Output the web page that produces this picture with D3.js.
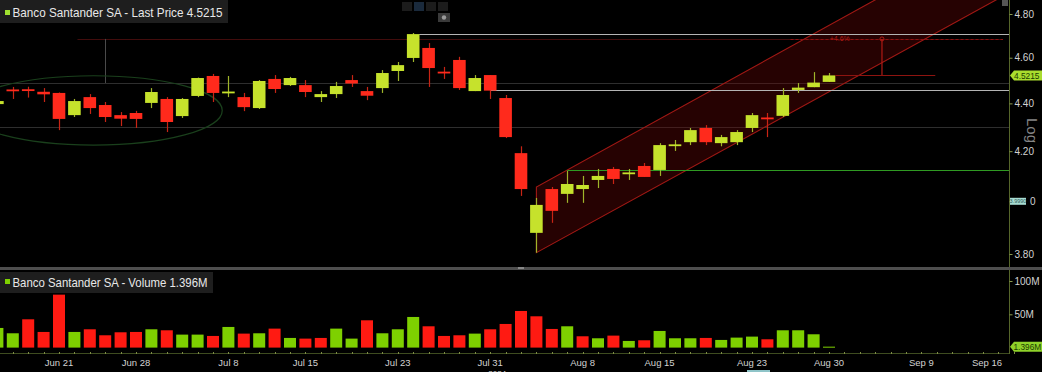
<!DOCTYPE html>
<html><head><meta charset="utf-8">
<script src="https://cdn.jsdelivr.net/npm/d3@7"></script>
<style>
body{margin:0;background:#000;overflow:hidden}
text{font-family:"Liberation Sans",Arial,sans-serif}
</style>
</head><body>
<svg id="c" width="1042" height="372"></svg>
<script>
// ---------------- DATA ----------------
const tradingDays = ["Jun 17","Jun 18","Jun 19","Jun 20","Jun 21","Jun 24","Jun 25","Jun 26","Jun 27","Jun 28",
 "Jul 1","Jul 2","Jul 3","Jul 4","Jul 5","Jul 8","Jul 9","Jul 10","Jul 11","Jul 12",
 "Jul 15","Jul 16","Jul 17","Jul 18","Jul 19","Jul 22","Jul 23","Jul 24","Jul 25","Jul 26",
 "Jul 29","Jul 30","Jul 31","Aug 1","Aug 2","Aug 5","Aug 6","Aug 7","Aug 8","Aug 9",
 "Aug 12","Aug 13","Aug 14","Aug 15","Aug 16","Aug 19","Aug 20","Aug 21","Aug 22","Aug 23",
 "Aug 26","Aug 27","Aug 28","Aug 29","Aug 30","Sep 2","Sep 3","Sep 4","Sep 5","Sep 6",
 "Sep 9","Sep 10","Sep 11","Sep 12","Sep 13","Sep 16","Sep 17"];

const openPrice  = [4.397,4.460,4.461,4.450,4.445,4.350,4.427,4.393,4.350,4.359,
 4.402,4.419,4.346,4.432,4.519,4.447,4.427,4.380,4.506,4.479,
 4.479,4.427,4.440,4.501,4.453,4.466,4.541,4.599,4.644,4.538,
 4.590,4.453,4.523,4.423,4.192,3.879,4.048,4.029,4.048,4.084,
 4.128,4.110,4.140,4.124,4.224,4.237,4.296,4.233,4.237,4.296,
 4.340,4.347,4.458,4.470,4.493];
const highPrice  = [4.415,4.471,4.472,4.466,4.447,4.419,4.440,4.406,4.363,4.368,
 4.466,4.427,4.423,4.512,4.528,4.519,4.445,4.501,4.523,4.515,
 4.501,4.453,4.493,4.523,4.471,4.545,4.581,4.712,4.666,4.559,
 4.604,4.523,4.523,4.436,4.220,4.013,4.056,4.120,4.100,4.128,
 4.136,4.128,4.152,4.233,4.246,4.296,4.308,4.267,4.287,4.359,
 4.359,4.466,4.488,4.536,4.532];
const lowPrice   = [4.390,4.419,4.425,4.406,4.287,4.342,4.355,4.321,4.304,4.296,
 4.380,4.279,4.338,4.427,4.406,4.427,4.367,4.376,4.445,4.475,
 4.427,4.406,4.423,4.471,4.414,4.445,4.497,4.581,4.471,4.506,
 4.458,4.453,4.419,4.254,4.021,3.805,3.917,3.994,3.994,4.052,
 4.068,4.084,4.096,4.100,4.201,4.225,4.225,4.220,4.225,4.279,
 4.258,4.342,4.445,4.470,4.493];
const closePrice = [4.410,4.456,4.455,4.439,4.334,4.410,4.380,4.342,4.335,4.334,
 4.449,4.321,4.419,4.510,4.445,4.451,4.384,4.497,4.462,4.510,
 4.449,4.440,4.475,4.486,4.433,4.532,4.567,4.707,4.554,4.534,
 4.466,4.510,4.455,4.258,4.048,3.986,3.963,4.068,4.064,4.100,
 4.088,4.114,4.096,4.225,4.228,4.287,4.237,4.258,4.279,4.350,
 4.336,4.436,4.468,4.490,4.5215];

// volume in millions
const volumeM = [29.5,21.5,42.5,23.5,79.5,23.5,27.5,18.5,23,23.5,
 27.5,26,19.5,19.5,17.5,31,21,21.5,28.5,14.5,
 13.5,14.5,28.5,13.5,41,21.5,27.5,46,32,17.5,
 18.5,21,27.5,35.5,55,47,28,32,17,14,
 18,10,11,25,14,14,14.5,11.5,15,16.5,
 12.5,26,26,20,1.396];
// 1 = up day (green), 0 = down day (red)
const volumeUp = [1,1,0,0,0,1,0,0,0,0,
 1,0,1,1,0,1,0,1,0,1,
 0,0,1,1,0,1,1,1,0,0,
 0,1,0,0,0,0,0,1,0,1,
 0,1,0,1,1,1,0,1,1,1,
 0,1,1,1,1];

const priceTicks = [3.8,4.0,4.2,4.4,4.6,4.8];
const volumeTicks = [50,100];
const dateTickLabels = ["Jun 21","Jun 28","Jul 8","Jul 15","Jul 23","Jul 31","Aug 8","Aug 15","Aug 23","Aug 30","Sep 9","Sep 16"];

// drawn annotations (data coordinates)
const gridPrices = [4.488, 4.30];
const levelPrices = [4.707, 4.458];
const levelStartDays = ["Jul 24","Jul 31"];
const supportPrice = 4.124, supportStartDay = "Aug 7";
const channelStartDay = "Aug 5", channelEndDay = "Aug 30";
const channelUpper = [4.056, 4.747];
const channelLower = [3.805, 4.450];
const targetPrice = 4.685;
const lastPrice = 4.5215, lastVolume = "1.396M";
const ellipseDays = [-2.1, 14.6], ellipsePrices = [4.225, 4.52];

// ---------------- CHART ----------------
const svg = d3.select("#c");
const W = 1042, H = 372, axisX = 1009, panelBottom = 267;
const idx = d => tradingDays.indexOf(d);
const x = d3.scaleLinear().domain([0, 65]).range([-2.6, 998.4]);
const y = d3.scaleLog().domain([3.8, 4.8]).range([254, 14]);
const yv = d3.scaleLinear().domain([0, 100]).range([347.6, 281]);

const upC = "#c6e22c", dnC = "#ff2a1c", upW = "#9fb52a", dnW = "#c82414";
const vUp = "#7ed000", vDn = "#ff1a12";

svg.append("rect").attr("width", W).attr("height", H).attr("fill", "#000");

const defs = svg.append("defs");
defs.append("clipPath").attr("id", "pc").append("rect")
  .attr("x", 0).attr("y", 0).attr("width", axisX).attr("height", panelBottom);

const plot = svg.append("g").attr("clip-path", "url(#pc)");

// faint grid
plot.selectAll("line.grid").data(gridPrices).join("line")
  .attr("x1", 0).attr("x2", axisX).attr("y1", d => Math.round(y(d)) + 0.5).attr("y2", d => Math.round(y(d)) + 0.5)
  .attr("stroke", "#2e2e2e").attr("stroke-width", 1);

// faint dark red target line across
plot.append("line").attr("x1", x(5.2)).attr("x2", x(65.3))
  .attr("y1", Math.round(y(targetPrice)) + 0.5).attr("y2", Math.round(y(targetPrice)) + 0.5)
  .attr("stroke", "#420c0c").attr("stroke-width", 1);
// gray vertical near Jun 26
plot.append("line").attr("x1", Math.round(x(idx("Jun 26"))) + 0.5).attr("x2", Math.round(x(idx("Jun 26"))) + 0.5)
  .attr("y1", y(targetPrice)).attr("y2", y(4.488)).attr("stroke", "#4a4a4a");

// ellipse
plot.append("ellipse")
  .attr("cx", (x(ellipseDays[0]) + x(ellipseDays[1])) / 2)
  .attr("cy", (y(ellipsePrices[0]) + y(ellipsePrices[1])) / 2)
  .attr("rx", (x(ellipseDays[1]) - x(ellipseDays[0])) / 2)
  .attr("ry", (y(ellipsePrices[0]) - y(ellipsePrices[1])) / 2)
  .attr("fill", "none").attr("stroke", "#1a401c").attr("stroke-width", 1.2);

// channel
const cs = idx(channelStartDay), ce = idx(channelEndDay);
function ext(p0, p1, xe) {
  const x0 = x(cs), y0 = y(p0), x1 = x(ce), y1 = y(p1);
  return [xe, y0 + (y1 - y0) / (x1 - x0) * (xe - x0)];
}
const xFar = 1060;
const uA = [x(cs), y(channelUpper[0])], uB = ext(channelUpper[0], channelUpper[1], xFar);
const lA = [x(cs), y(channelLower[0])], lB = ext(channelLower[0], channelLower[1], xFar);
plot.append("path").attr("d", d3.line()([uA, uB, lB, lA]) + "Z")
  .attr("fill", "rgba(105,6,6,0.36)").attr("stroke", "none");
plot.append("path").attr("d", d3.line()([uB, uA, lA, lB]))
  .attr("fill", "none").attr("stroke", "#a01814").attr("stroke-width", 1.1);

// horizontal levels
plot.selectAll("line.lvl").data(levelPrices).join("line")
  .attr("x1", (d, i) => x(idx(levelStartDays[i])) + (i === 0 ? 6 : 0)).attr("x2", axisX)
  .attr("y1", d => Math.round(y(d)) + 0.5).attr("y2", d => Math.round(y(d)) + 0.5)
  .attr("stroke", "#b4b4b4").attr("stroke-width", 1.2);
plot.append("line").attr("x1", x(idx(supportStartDay))).attr("x2", axisX)
  .attr("y1", Math.round(y(supportPrice)) + 0.5).attr("y2", Math.round(y(supportPrice)) + 0.5)
  .attr("stroke", "#2f9a22").attr("stroke-width", 1.1);

// candles
const candles = closePrice.map((c, i) => ({i, o: openPrice[i], h: highPrice[i], l: lowPrice[i], c}));
const bw = 12.6;
const cg = plot.selectAll("g.cd").data(candles).join("g");
cg.append("line")
  .attr("x1", d => Math.round(x(d.i)) + 0.5).attr("x2", d => Math.round(x(d.i)) + 0.5)
  .attr("y1", d => y(d.h)).attr("y2", d => y(d.l))
  .attr("stroke", d => d.c >= d.o ? upW : dnW).attr("stroke-width", 1.2);
cg.append("rect")
  .attr("x", d => x(d.i) - bw / 2).attr("width", bw)
  .attr("y", d => y(Math.max(d.o, d.c)))
  .attr("height", d => Math.max(1.8, Math.abs(y(d.o) - y(d.c))))
  .attr("fill", d => d.c >= d.o ? upC : dnC);

// measurement annotation
const mx = x(57.44);
plot.append("line").attr("x1", x(51.5)).attr("x2", x(65.3))
  .attr("y1", Math.round(y(targetPrice)) + 0.5).attr("y2", Math.round(y(targetPrice)) + 0.5)
  .attr("stroke", "#8c1010").attr("stroke-dasharray", "3,2");
plot.append("line").attr("x1", mx).attr("x2", mx).attr("y1", y(targetPrice)).attr("y2", y(lastPrice))
  .attr("stroke", "#b01a14").attr("stroke-width", 1.2);
plot.append("circle").attr("cx", mx).attr("cy", y(targetPrice)).attr("r", 2)
  .attr("fill", "none").attr("stroke", "#b01a14");
plot.append("line").attr("x1", x(54.4)).attr("x2", x(60.9))
  .attr("y1", Math.round(y(lastPrice)) + 0.5).attr("y2", Math.round(y(lastPrice)) + 0.5)
  .attr("stroke", "#8e1410").attr("stroke-width", 1.2);
plot.append("text").attr("x", x(54.7)).attr("y", y(targetPrice) + 2)
  .attr("fill", "#b01a14").attr("font-size", 7).attr("text-anchor", "middle").text("+4.6%");

// toolbar icons
const tb = svg.append("g");
[[402,"#1c1c1c"],[414,"#1a2a3c"],[426,"#1c1c1c"],[438,"#1c1c1c"]].forEach(([tx, f]) =>
  tb.append("rect").attr("x", tx).attr("y", 2).attr("width", 10).attr("height", 9).attr("fill", f));
tb.append("rect").attr("x", 438).attr("y", 13).attr("width", 12).attr("height", 9).attr("fill", "#3a3a3a");
tb.append("circle").attr("cx", 444).attr("cy", 17.5).attr("r", 2.2).attr("fill", "#9a9a9a");
svg.append("rect").attr("x", 1002).attr("y", 0).attr("width", 6).attr("height", 6).attr("fill", "#555");

// legend (price)
svg.append("rect").attr("x", 0).attr("y", 0).attr("width", 228).attr("height", 23).attr("fill", "#1e1e1e");
svg.append("rect").attr("x", 5).attr("y", 10).attr("width", 5).attr("height", 5).attr("fill", "#a0e030");
svg.append("text").attr("x", 12.5).attr("y", 17).attr("font-size", 13).attr("fill", "#e8e8e8")
  .attr("textLength", 210).attr("lengthAdjust", "spacingAndGlyphs")
  .text("Banco Santander SA - Last Price " + lastPrice.toFixed(4));

// price axis
svg.append("line").attr("x1", axisX + 0.5).attr("x2", axisX + 0.5).attr("y1", 0).attr("y2", panelBottom)
  .attr("stroke", "#56662a");
const pa = svg.append("g").attr("transform", `translate(${axisX + 0.5},0)`)
  .call(d3.axisRight(y).tickValues(priceTicks).tickFormat(d3.format(".2f")).tickSize(3).tickPadding(2));
pa.select(".domain").remove();
pa.selectAll("line").attr("stroke", "#8a9a50");
pa.selectAll("text").attr("fill", "#d2d2d2").attr("font-size", 10).attr("font-family", "Liberation Sans, Arial");

// teal marker over 4.00 (covers most of the 4.00 label, as in the source)
pa.selectAll(".tick").filter(d => d === 4.0).select("text")
  .attr("text-anchor", "end").attr("x", 26).text("0");
svg.append("rect").attr("x", axisX + 1).attr("y", y(4.0) - 3.5).attr("width", 16).attr("height", 7).attr("fill", "#a8dcd2");
svg.append("text").attr("x", axisX + 9).attr("y", y(4.0) + 2).attr("font-size", 5.5).attr("text-anchor", "middle")
  .attr("fill", "#2a5a58").text("3.9990");

// last price tag
const ly = y(lastPrice);
svg.append("path").attr("d", d3.line()([[axisX + 1, ly], [axisX + 5, ly - 5], [W, ly - 5], [W, ly + 5], [axisX + 5, ly + 5]]) + "Z")
  .attr("fill", "#a9dc2e");
svg.append("text").attr("x", axisX + 5).attr("y", ly + 3.4).attr("font-size", 9)
  .attr("textLength", 25.5).attr("lengthAdjust", "spacingAndGlyphs")
  .attr("fill", "#1b3a00").text(lastPrice.toFixed(4));

// "Log" label
svg.append("text").attr("transform", `translate(1027,${118}) rotate(90)`)
  .attr("font-size", 15).attr("fill", "#858585").text("Log");

// panel separator
svg.append("rect").attr("x", 0).attr("y", panelBottom).attr("width", W).attr("height", 3).attr("fill", "#4e4e4e");
svg.append("rect").attr("x", 518).attr("y", panelBottom).attr("width", 6).attr("height", 2).attr("fill", "#888");

// volume bars
const vb = 12;
svg.append("g").selectAll("rect").data(volumeM).join("rect")
  .attr("x", (d, i) => x(i) - vb / 2).attr("width", vb)
  .attr("y", d => yv(d)).attr("height", d => Math.max(1, yv(0) - yv(d)))
  .attr("fill", (d, i) => volumeUp[i] ? vUp : vDn);

// volume legend
svg.append("rect").attr("x", 0).attr("y", 272).attr("width", 213).attr("height", 21).attr("fill", "#1e1e1e");
svg.append("rect").attr("x", 5).attr("y", 279).attr("width", 5).attr("height", 5).attr("fill", "#7ed000");
svg.append("text").attr("x", 12.5).attr("y", 287).attr("font-size", 13).attr("fill", "#e8e8e8")
  .attr("textLength", 195).attr("lengthAdjust", "spacingAndGlyphs")
  .text("Banco Santander SA - Volume " + lastVolume);

// volume axis
svg.append("line").attr("x1", axisX + 0.5).attr("x2", axisX + 0.5).attr("y1", panelBottom + 3).attr("y2", 354)
  .attr("stroke", "#56662a");
const va = svg.append("g").attr("transform", `translate(${axisX + 0.5},0)`)
  .call(d3.axisRight(yv).tickValues(volumeTicks).tickFormat(d => d + "M").tickSize(3).tickPadding(2));
va.select(".domain").remove();
va.selectAll("line").attr("stroke", "#8a9a50");
va.selectAll("text").attr("fill", "#d2d2d2").attr("font-size", 10).attr("font-family", "Liberation Sans, Arial");
const vly = yv(1.396);
svg.append("path").attr("d", d3.line()([[axisX + 1, vly], [axisX + 5, vly - 5], [W, vly - 5], [W, vly + 5], [axisX + 5, vly + 5]]) + "Z")
  .attr("fill", "#8fd22a");
svg.append("text").attr("x", axisX + 4.5).attr("y", vly + 3.2).attr("font-size", 8.3)
  .attr("fill", "#1b3a00").text(lastVolume);

// x axis
const axY = 353.5;
svg.append("line").attr("x1", 0).attr("x2", axisX).attr("y1", axY).attr("y2", axY).attr("stroke", "#3e4c20");
svg.append("g").selectAll("line").data(d3.range(0, tradingDays.length)).join("line")
  .attr("x1", i => Math.round(x(i)) + 0.5).attr("x2", i => Math.round(x(i)) + 0.5)
  .attr("y1", axY - 1.5).attr("y2", axY + 0.5).attr("stroke", "#7d8c45");
const xl = svg.append("g").selectAll("text").data(dateTickLabels).join("text")
  .attr("x", d => x(idx(d))).attr("y", 366).attr("font-size", 9.5).attr("fill", "#d2d2d2")
  .attr("text-anchor", "middle").text(d => d);
xl.each(function (d) {
  const w = this.getComputedTextLength();
  const cx = +this.getAttribute("x");
  if (cx + w / 2 > axisX - 7) this.setAttribute("x", axisX - 7 - w / 2);
});
svg.append("text").attr("x", x(idx("Jul 31")) + 7).attr("y", 376).attr("font-size", 8)
  .attr("fill", "#d2d2d2").attr("text-anchor", "middle").text("2024");
svg.append("rect").attr("x", 747).attr("y", 370).attr("width", 23).attr("height", 2).attr("fill", "#8fc4c8");
</script>
</body></html>
